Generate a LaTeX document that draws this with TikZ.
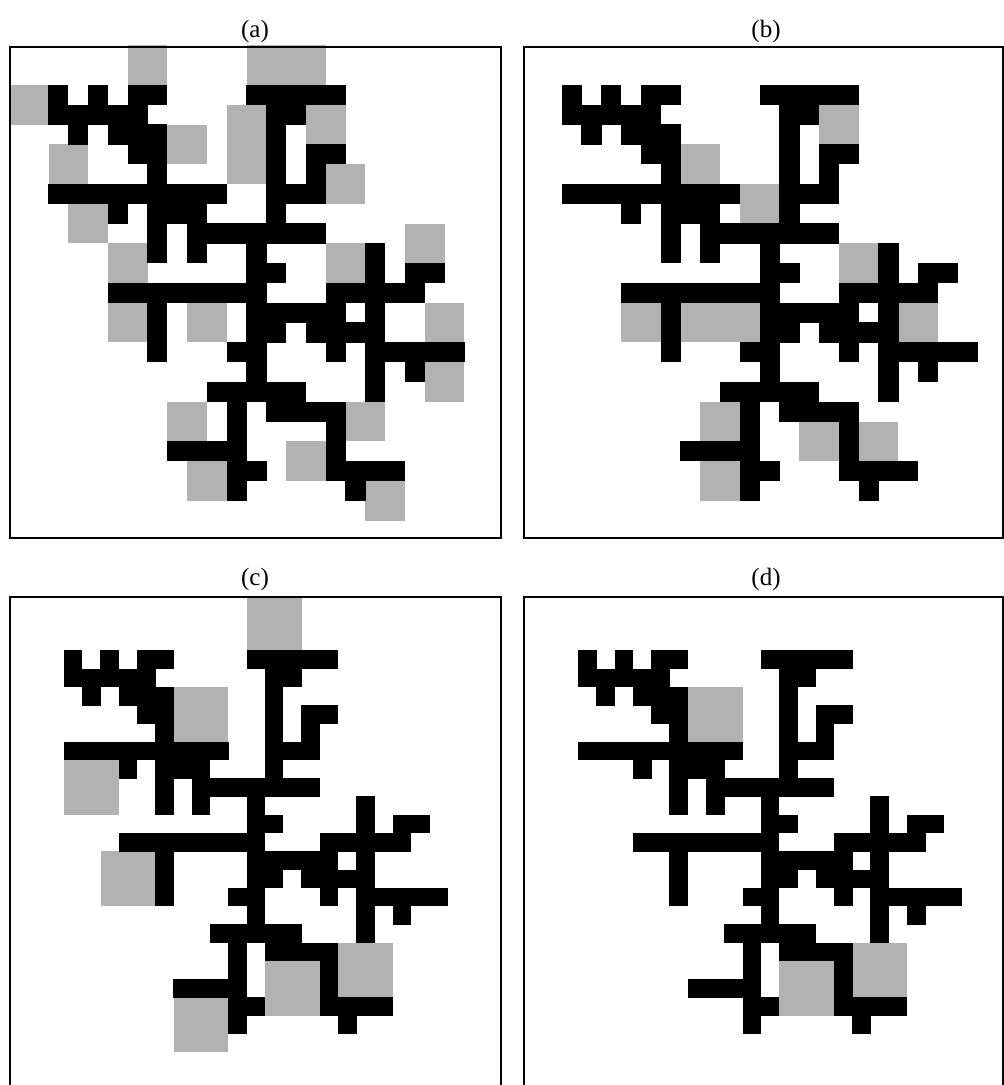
\documentclass[tikz,border=0pt]{standalone}
\usepackage{fontspec}
\setmainfont{Liberation Serif}
\definecolor{cellgray}{RGB}{178,178,178}
\tikzset{
  frame/.style={draw=black, line width=1.2pt},
  lbl/.style={font=\fontsize{25}{30}\selectfont, inner sep=0pt},
  blackcell/.style={fill=black},
  graycell/.style={fill=cellgray}
}
\newcommand{\drawdendrite}{%
  \foreach \r/\a/\b in {
    0/0/0, 0/2/2, 0/4/5, 0/10/14,
    1/0/4, 1/11/12,
    2/1/1, 2/3/5, 2/11/11,
    3/4/5, 3/11/11, 3/13/14,
    4/5/5, 4/11/11, 4/13/13,
    5/0/8, 5/11/13,
    6/3/3, 6/5/7, 6/11/11,
    7/5/5, 7/7/13,
    8/5/5, 8/7/7, 8/10/10, 8/16/16,
    9/10/11, 9/16/16, 9/18/19,
    10/3/10, 10/14/18,
    11/5/5, 11/10/14, 11/16/16,
    12/5/5, 12/10/11, 12/13/16,
    13/5/5, 13/9/10, 13/14/14, 13/16/20,
    14/10/10, 14/16/16, 14/18/18,
    15/8/12, 15/16/16,
    16/9/9, 16/11/14,
    17/9/9, 17/14/14,
    18/6/9, 18/14/14,
    19/9/10, 19/14/17,
    20/9/9, 20/15/15}
  {\fill[blackcell] (\a-0.01,\r-0.01) rectangle (\b+1.01,\r+1.01);}%
}
\newcommand{\graysquares}[2]{%
  \foreach \gx/\gy in {#2} {\fill[graycell] (\gx,\gy) rectangle ++(#1,#1);}%
}
\begin{document}
\begin{tikzpicture}[x=1pt, y=-1pt]
  \useasboundingbox (0,0) rectangle (1004,1085);
  \clip (0,0) rectangle (1004,1085);
  \fill[white] (0,0) rectangle (1004,1085);

  % labels
  \node[lbl] (la) at (255,31) {(a)};
  \node[lbl] (lb) at (766,31) {(b)};
  \node[lbl] (lc) at (255,579) {(c)};
  \node[lbl] (ld) at (766,579) {(d)};

  % panel (a)
  \begin{scope}[shift={(48.5pt,-85pt)}, x=19.8pt, y=-19.8pt]
    \graysquares{2}{4/-2, 10/-2, 12/-2, -2/0, 9/1, 9/3, 13/1, 6/2, 0/3, 14/4,
      1/6, 3/8, 14/8, 18/7, 3/11, 7/11, 19/11, 19/14, 6/16, 15/16, 12/18, 7/19, 16/20}
    \drawdendrite
  \end{scope}
  \draw[frame] (10,47) rectangle (501,538);

  % panel (b)
  \begin{scope}[shift={(561.7pt,-85pt)}, x=19.8pt, y=-19.8pt]
    \graysquares{2}{6/3, 9/5, 13/1, 14/8, 17/11, 3/11, 6/11, 8/11, 7/16, 7/19, 12/17, 15/17}
    \drawdendrite
  \end{scope}
  \draw[frame] (524,47) rectangle (1003,538);

  % panel (c)
  \begin{scope}[shift={(64pt,-650.5pt)}, x=18.27pt, y=-18.27pt]
    \graysquares{3}{10/-3, 6/2, 0/6, 2/11, 11/17, 15/16, 6/19}
    \drawdendrite
  \end{scope}
  \draw[frame] (10,597) rectangle (501,1095);

  % panel (d)
  \begin{scope}[shift={(578.3pt,-650.5pt)}, x=18.27pt, y=-18.27pt]
    \graysquares{3}{6/2, 11/17, 15/16}
    \drawdendrite
  \end{scope}
  \draw[frame] (524,597) rectangle (1003,1095);
\end{tikzpicture}
\end{document}
